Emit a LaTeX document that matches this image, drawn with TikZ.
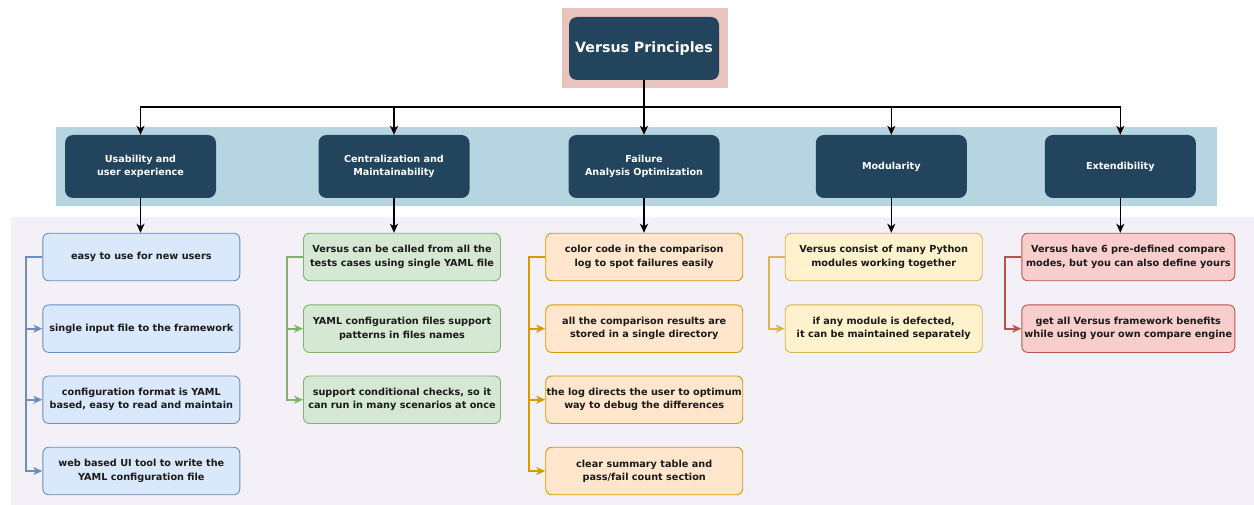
\documentclass[tikz,border=0pt]{standalone}
\usepackage{fontspec}
\setmainfont{DejaVu Sans}
\usetikzlibrary{arrows.meta}
\definecolor{darkblue}{HTML}{23445D}
\definecolor{bandblue}{HTML}{B6D5E1}
\definecolor{lav}{HTML}{F3F1F7}
\definecolor{pinkbg}{HTML}{E7C4BE}
\definecolor{txt}{HTML}{1A1A1A}
\definecolor{bluefill}{HTML}{DAE8FC}\definecolor{bluedraw}{HTML}{6C8EBF}
\definecolor{greenfill}{HTML}{D5E8D4}\definecolor{greendraw}{HTML}{82B366}
\definecolor{orangefill}{HTML}{FFE6CC}\definecolor{orangedraw}{HTML}{D79B00}
\definecolor{yellowfill}{HTML}{FFF2CC}\definecolor{yellowdraw}{HTML}{D6B656}
\definecolor{redfill}{HTML}{F8CECC}\definecolor{reddraw}{HTML}{B85450}
\begin{document}
\begin{tikzpicture}[x=1pt,y=-1pt,
  rootbox/.style={fill=darkblue, draw=none, rounded corners=8pt, minimum width=150pt, minimum height=63pt, inner sep=0pt, text=white, font=\bfseries\fontsize{14.2}{17}\selectfont, align=center},
  catbox/.style={fill=darkblue, draw=none, rounded corners=8pt, minimum width=151pt, minimum height=63pt, inner sep=0pt, text=white, font=\bfseries\fontsize{9.6}{13.3}\selectfont, align=center},
  itembox/.style={rounded corners=6pt, line width=0.9pt, minimum width=197pt, minimum height=47.5pt, inner sep=0pt, text=txt, font=\bfseries\fontsize{9.7}{13.3}\selectfont, align=center},
  bluebox/.style={itembox, fill=bluefill, draw=bluedraw},
  greenbox/.style={itembox, fill=greenfill, draw=greendraw},
  orangebox/.style={itembox, fill=orangefill, draw=orangedraw},
  yellowbox/.style={itembox, fill=yellowfill, draw=yellowdraw},
  redbox/.style={itembox, fill=redfill, draw=reddraw, minimum width=213pt},
  blk/.style={line width=1.4pt, black, -{Stealth[length=9pt,width=8pt,inset=2.5pt]}},
  link/.style={line width=2pt, -{Stealth[length=9pt,width=8pt,inset=2.5pt]}}
]
\useasboundingbox (0,0) rectangle (1254,505);
\fill[white] (0,0) rectangle (1254,505);
\fill[bandblue] (56,127) rectangle (1217,206);
\fill[lav] (11,217) rectangle (1254,505);
\fill[pinkbg] (562,8) rectangle (728,88);

\node[rootbox] (root) at (644,48.5) {Versus Principles};

\node[catbox] (c1) at (140.5,166.5) {Usability and\\user experience};
\node[catbox] (c2) at (394,166.5) {Centralization and\\Maintainability};
\node[catbox] (c3) at (644,166.5) {Failure\\Analysis Optimization};
\node[catbox] (c4) at (891.3,166.5) {Modularity};
\node[catbox] (c5) at (1120.3,166.5) {Extendibility};

\coordinate (j) at (644,107);
\draw[blk] (root.south) -- (j) -| (c1.north);
\draw[blk] (j) -| (c2.north);
\draw[blk] (root.south) -- (c3.north);
\draw[blk] (j) -| (c4.north);
\draw[blk] (j) -| (c5.north);

% column 1
\node[bluebox] (a1) at (141.3,257) {easy to use for new users};
\node[bluebox] (a2) at (141.3,328.7) {single input file to the framework};
\node[bluebox] (a3) at (141.3,399.7) {configuration format is YAML\\based, easy to read and maintain};
\node[bluebox] (a4) at (141.3,471) {web based UI tool to write the\\YAML configuration file};
% column 2
\node[greenbox] (b1) at (402,257) {Versus can be called from all the\\tests cases using single YAML file};
\node[greenbox] (b2) at (402,328.7) {YAML configuration files support\\patterns in files names};
\node[greenbox] (b3) at (402,399.7) {support conditional checks, so it\\can run in many scenarios at once};
% column 3
\node[orangebox] (d1) at (644.2,257) {color code in the comparison\\log to spot failures easily};
\node[orangebox] (d2) at (644.2,328.7) {all the comparison results are\\stored in a single directory};
\node[orangebox] (d3) at (644.2,399.7) {the log directs the user to optimum\\way to debug the differences};
\node[orangebox] (d4) at (644.2,471) {clear summary table and\\pass/fail count section};
% column 4
\node[yellowbox] (e1) at (883.7,257) {Versus consist of many Python\\modules working together};
\node[yellowbox] (e2) at (883.7,328.7) {if any module is defected,\\it can be maintained separately};
% column 5
\node[redbox] (f1) at (1128.3,257) {Versus have 6 pre-defined compare\\modes, but you can also define yours};
\node[redbox] (f2) at (1128.3,328.7) {get all Versus framework benefits\\while using your own compare engine};

% category to first item
\draw[blk] (c1.south) -- (c1.south |- a1.north);
\draw[blk] (c2.south) -- (c2.south |- b1.north);
\draw[blk] (c3.south) -- (c3.south |- d1.north);
\draw[blk] (c4.south) -- (c4.south |- e1.north);
\draw[blk] (c5.south) -- (c5.south |- f1.north);

% branch connectors
\foreach \t in {a2,a3,a4} \draw[link,bluedraw] (a1.west) -- ++(-16,0) |- (\t.west);
\foreach \t in {b2,b3} \draw[link,greendraw] (b1.west) -- ++(-16,0) |- (\t.west);
\foreach \t in {d2,d3,d4} \draw[link,orangedraw] (d1.west) -- ++(-16,0) |- (\t.west);
\draw[link,yellowdraw] (e1.west) -- ++(-16,0) |- (e2.west);
\draw[link,reddraw] (f1.west) -- ++(-16,0) |- (f2.west);
\end{tikzpicture}
\end{document}
